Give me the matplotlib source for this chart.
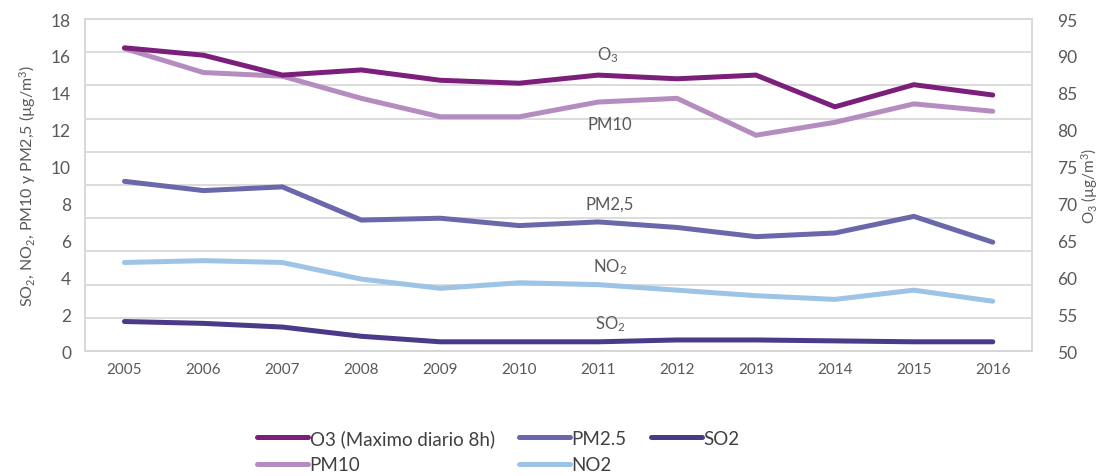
import numpy as np
import matplotlib
matplotlib.use("Agg")
import matplotlib.pyplot as plt

plt.rcParams['font.family'] = ['Lato', 'DejaVu Sans']
plt.rcParams['mathtext.fontset'] = 'custom'
plt.rcParams['mathtext.rm'] = 'Lato'
plt.rcParams['mathtext.it'] = 'Lato:italic'
plt.rcParams['mathtext.bf'] = 'Lato:bold'

# --- Data (annual means, µg/m3) ---
years = [2005, 2006, 2007, 2008, 2009, 2010, 2011, 2012, 2013, 2014, 2015, 2016]
o3 = [91.1, 90.1, 87.4, 88.1, 86.7, 86.3, 87.4, 86.9, 87.4, 83.1, 86.1, 84.7]
pm10 = [16.4, 15.1, 14.9, 13.7, 12.7, 12.7, 13.5, 13.7, 11.7, 12.4, 13.4, 13.0]
pm25 = [9.2, 8.7, 8.9, 7.1, 7.2, 6.8, 7.0, 6.7, 6.2, 6.4, 7.3, 5.9]
no2 = [4.8, 4.9, 4.8, 3.9, 3.4, 3.7, 3.6, 3.3, 3.0, 2.8, 3.3, 2.7]
so2 = [1.6, 1.5, 1.3, 0.8, 0.5, 0.5, 0.5, 0.6, 0.6, 0.55, 0.5, 0.5]

left_ticks = [0, 2, 4, 6, 8, 10, 12, 14, 16, 18]
right_ticks = [50, 55, 60, 65, 70, 75, 80, 85, 90, 95]

c_o3 = "#7B1F7A"
c_pm10 = "#B58CC0"
c_pm25 = "#6A67AA"
c_no2 = "#9DC3E6"
c_so2 = "#4B3A8A"
txt = "#595959"
grid_c = "#D9D9D9"

fig = plt.figure(figsize=(11.04, 4.77), dpi=100)
ax = fig.add_axes([0.077, 0.262, 0.858, 0.696])
ax2 = ax.twinx()

x = np.arange(len(years))
lw = 3.6

# --- Lines: O3 on the right axis, the rest on the left ---
l_o3, = ax2.plot(x, o3, color=c_o3, lw=lw, solid_capstyle="round", solid_joinstyle="miter")
l_pm10, = ax.plot(x, pm10, color=c_pm10, lw=lw, solid_capstyle="round", solid_joinstyle="miter")
l_pm25, = ax.plot(x, pm25, color=c_pm25, lw=lw, solid_capstyle="round", solid_joinstyle="miter")
l_no2, = ax.plot(x, no2, color=c_no2, lw=lw, solid_capstyle="round", solid_joinstyle="miter")
l_so2, = ax.plot(x, so2, color=c_so2, lw=lw, solid_capstyle="round", solid_joinstyle="miter")
ax2.set_zorder(ax.get_zorder() + 1)

ax.set_xlim(-0.5, len(years) - 0.5)
ax.set_ylim(0, 18)
ax2.set_ylim(50, 95)

ax.set_xticks(x)
ax.set_xticklabels([str(y) for y in years], fontsize=11, color=txt)
ax.set_yticks(left_ticks)
ax.set_yticklabels([str(t) for t in left_ticks], fontsize=12.5, color=txt)
ax2.set_yticks(right_ticks)
ax2.set_yticklabels([str(t) for t in right_ticks], fontsize=12.5, color=txt)

# gridlines on ten equal bands
ax.set_yticks(np.linspace(0, 18, 11), minor=True)
ax.grid(False)
ax.grid(True, which="minor", axis="y", color=grid_c, lw=1.3)
ax.set_axisbelow(True)
ax.tick_params(which="both", length=0)
ax.tick_params(axis="x", pad=8)
ax.tick_params(axis="y", pad=10)
ax2.tick_params(which="both", length=0, pad=18)

for a in (ax, ax2):
    for s in a.spines.values():
        s.set_color(grid_c)
        s.set_linewidth(1.3)
ax.spines["bottom"].set_color("#BFBFBF")

ax.set_ylabel("SO$_2$, NO$_2$, PM10 y PM2,5 (µg/m$^3$)", fontsize=11.5, color=txt, labelpad=9)
ax2.set_ylabel("O$_3$ (µg/m$^3$)", fontsize=11, color=txt, labelpad=1, rotation=90)

# --- Inline series labels ---
lab = dict(fontsize=12, color=txt, ha="center", va="center")
ax.text(6.12, 16.1, "O$_3$", **lab)
ax.text(6.15, 12.3, "PM10", **lab)
ax.text(6.15, 8.0, "PM2,5", **lab)
ax.text(6.15, 4.6, "NO$_2$", **lab)
ax.text(6.15, 1.5, "SO$_2$", **lab)

# --- Legend ---
handles = [l_o3, l_pm10, l_pm25, l_no2, l_so2]
labels = ["O3 (Maximo diario 8h)", "PM10", "PM2.5", "NO2", "SO2"]
fig.legend(handles, labels, loc="upper left", bbox_to_anchor=(0.226, 0.114),
           ncol=3, frameon=False, fontsize=13.5, labelcolor="#404040",
           handlelength=2.7, handletextpad=0.1, columnspacing=1.3,
           labelspacing=0.5, borderaxespad=0)

fig.savefig("out.png", dpi=100)
